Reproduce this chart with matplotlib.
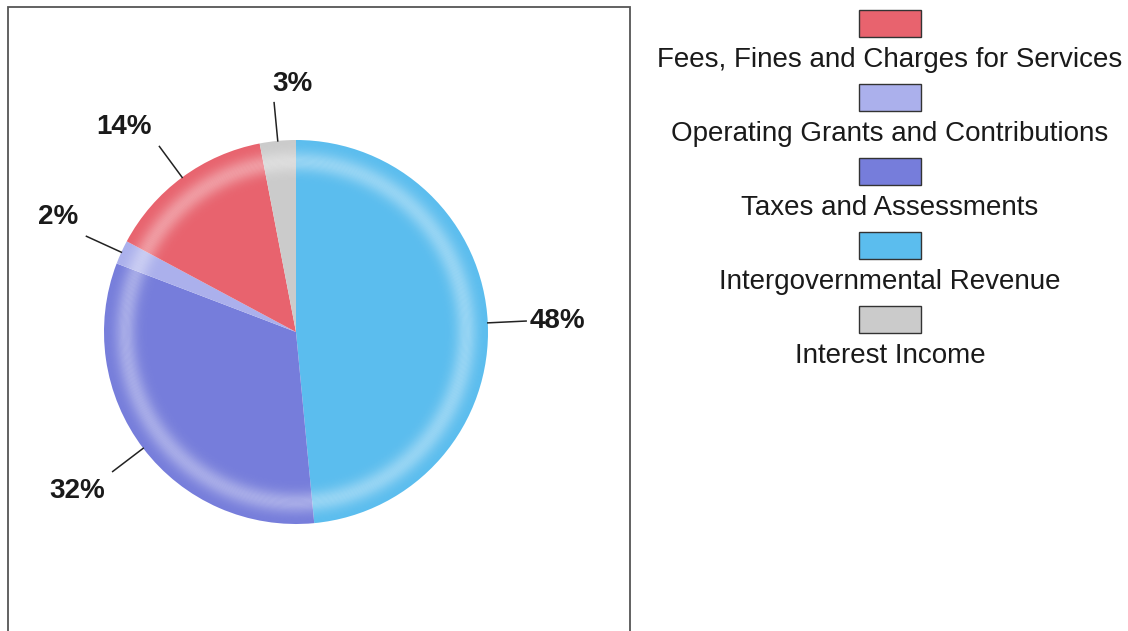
import matplotlib
matplotlib.use('Agg')
import matplotlib.pyplot as plt
import numpy as np
from matplotlib.patches import Rectangle, Wedge

# slice data, in drawing order (clockwise from 12 o'clock)
categories = ['Intergovernmental Revenue', 'Taxes and Assessments',
              'Operating Grants and Contributions',
              'Fees, Fines and Charges for Services', 'Interest Income']
shares = [48, 32, 2, 14, 3]
pct_labels = ['48%', '32%', '2%', '14%', '3%']

# legend order as in the original
legend_order = ['Fees, Fines and Charges for Services',
                'Operating Grants and Contributions',
                'Taxes and Assessments', 'Intergovernmental Revenue',
                'Interest Income']

colors = {
    'Intergovernmental Revenue': '#5bbdee',
    'Taxes and Assessments': '#767ddb',
    'Operating Grants and Contributions': '#abb0ec',
    'Fees, Fines and Charges for Services': '#e8636e',
    'Interest Income': '#cbcbcb',
}

plt.rcParams['font.family'] = ['Liberation Sans', 'DejaVu Sans']

W, H = 1128, 631
fig = plt.figure(figsize=(W / 100, H / 100), dpi=100)
ax = fig.add_axes([0, 0, 1, 1])

# pixel-like coordinates, y up
cx, cy, R = 296, H - 332, 192
wedges, _ = ax.pie(shares, colors=[colors[c] for c in categories],
                   startangle=90, counterclock=False, center=(cx, cy),
                   radius=R, wedgeprops=dict(linewidth=0))

# soft rim highlight
for r in np.linspace(0.70, 0.99, 50):
    a = 0.36 * np.exp(-((r - 0.885) / 0.055) ** 2)
    ax.add_patch(Wedge((cx, cy), R * (r + 0.006), 0, 360, width=R * 0.0062,
                       facecolor='white', alpha=a, linewidth=0))

# leader lines and percentage labels
label_ha = ['left', 'right', 'right', 'right', 'left']
for w, lab, ha in zip(wedges, pct_labels, label_ha):
    th = np.radians((w.theta1 + w.theta2) / 2)
    x0, y0 = cx + R * np.cos(th), cy + R * np.sin(th)
    x1, y1 = cx + 1.2 * R * np.cos(th), cy + 1.2 * R * np.sin(th)
    ax.plot([x0, x1], [y0, y1], color='#222222', lw=1.1)
    s = np.sin(th)
    va = 'center' if abs(s) < 0.3 else ('bottom' if s > 0 else 'top')
    dx = 3 if ha == 'left' else -8
    dy = 0 if va == 'center' else (6 if va == 'bottom' else -6)
    if lab == '3%':
        dx = -2
    ax.text(x1 + dx, y1 + dy, lab, ha=ha, va=va, fontsize=20,
            fontweight='bold', color='#1a1a1a')

# frame around the pie (runs off the bottom edge)
ax.add_patch(Rectangle((8, -10), 622, H - 7 + 10, fill=False,
                       edgecolor='#555555', lw=1.3))

# legend: box above centred label
lx, top, step = 890, 24, 74
for i, name in enumerate(legend_order):
    yb = H - (top + i * step)
    ax.add_patch(Rectangle((lx - 31, yb - 13), 62, 27,
                           facecolor=colors[name], edgecolor='#333333', lw=1))
    ax.text(lx, yb - 36, name, ha='center', va='center', fontsize=20,
            color='#1a1a1a')

ax.set_xlim(0, W)
ax.set_ylim(0, H)
ax.set_aspect('equal')
ax.axis('off')

fig.savefig('out.png', dpi=100)
